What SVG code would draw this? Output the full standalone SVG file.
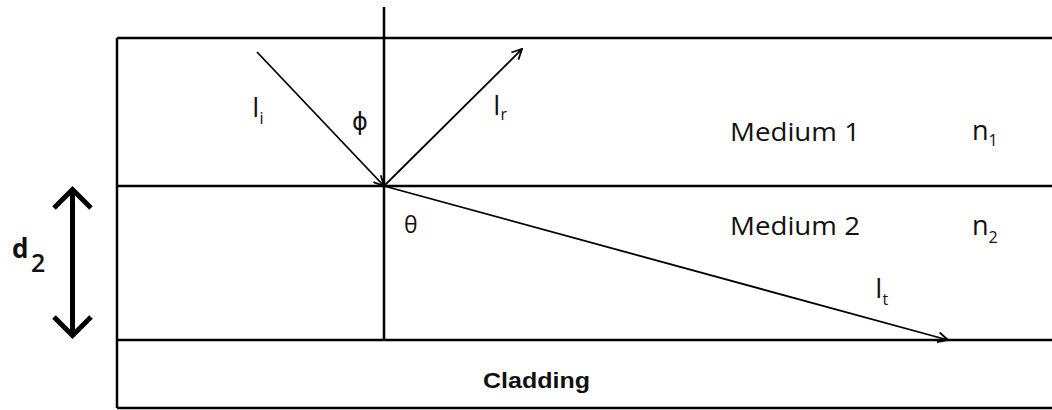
<svg xmlns="http://www.w3.org/2000/svg" width="1052" height="410" viewBox="0 0 1052 410">
<style>
.ln{stroke:#000;stroke-width:2.5;fill:none}
.ray{stroke:#000;stroke-width:1.8;fill:none}
.t{font-family:"Open Sans","Liberation Sans",sans-serif;font-size:27px;fill:#111}
.m{font-size:25px}
.s{font-size:16px}
.b{font-family:"Liberation Sans",Arial,sans-serif;font-weight:bold;font-size:22px;fill:#111}
</style>
<defs>
<marker id="ah" viewBox="0 0 12 12" refX="11" refY="6" markerWidth="12" markerHeight="12" markerUnits="userSpaceOnUse" orient="auto">
<path d="M1,1 L11,6 L1,11" fill="none" stroke="#000" stroke-width="1.8"/>
</marker>
</defs>
<g id="layers">
<line class="ln" x1="117" y1="38" x2="1052" y2="38"/>
<line class="ln" x1="117" y1="186" x2="1052" y2="186"/>
<line class="ln" x1="117" y1="340" x2="1052" y2="340"/>
<line class="ln" x1="117" y1="408" x2="1052" y2="408"/>
<line class="ln" x1="117" y1="38" x2="117" y2="408"/>
</g>
<g id="normal">
<line class="ln" x1="384" y1="7" x2="384" y2="340"/>
</g>
<g id="connectors">
<line class="ray" x1="257" y1="52" x2="384" y2="186" marker-end="url(#ah)"/>
<line class="ray" x1="384" y1="186" x2="522" y2="49" marker-end="url(#ah)"/>
<line class="ray" x1="384" y1="186" x2="948" y2="340" marker-end="url(#ah)"/>
</g>
<g id="d2-arrow">
<line x1="72.5" y1="191" x2="72.5" y2="334" stroke="#000" stroke-width="5"/>
<path d="M54,208 L72.5,189.5 L91,208" fill="none" stroke="#000" stroke-width="5"/>
<path d="M54,317 L72.5,335.5 L91,317" fill="none" stroke="#000" stroke-width="5"/>
<text x="12" y="258" font-family="Open Sans, Liberation Sans, sans-serif" font-weight="bold" font-size="26" fill="#111">d</text>
<text x="31" y="272" font-family="Open Sans, Liberation Sans, sans-serif" font-weight="600" font-size="25" fill="#111">2</text>
</g>
<g id="labels">
<text class="t" x="252" y="117">I<tspan class="s" dy="7">i</tspan></text>
<text x="352" y="130" font-family="DejaVu Sans, sans-serif" font-size="24" fill="#111">ϕ</text>
<text class="t" x="493" y="115">I<tspan class="s" dy="5">r</tspan></text>
<text x="404" y="233" font-family="Open Sans, sans-serif" font-size="23" fill="#111">θ</text>
<text class="t" x="875" y="298">I<tspan class="s" dy="7">t</tspan></text>
<text class="t m" x="730" y="141" textLength="130" lengthAdjust="spacingAndGlyphs">Medium 1</text>
<text class="t" x="972" y="140">n<tspan class="s" dy="6">1</tspan></text>
<text class="t m" x="730" y="235" textLength="130" lengthAdjust="spacingAndGlyphs">Medium 2</text>
<text class="t" x="972" y="235">n<tspan class="s" dy="8">2</tspan></text>
<text class="b" x="483" y="388" textLength="107" lengthAdjust="spacingAndGlyphs">Cladding</text>
</g>
</svg>
